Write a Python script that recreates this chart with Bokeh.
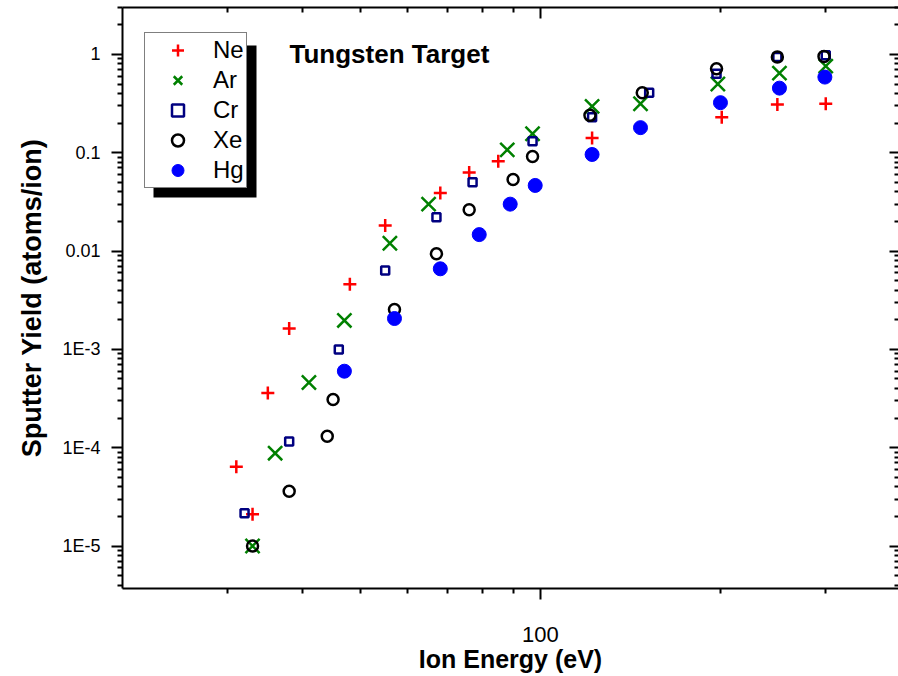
import math
from bokeh.plotting import figure
from bokeh.models import (LogAxis, FixedTicker, CustomJSTickFormatter, Legend,
                          LegendItem, Label, BoxAnnotation, Range1d)
from bokeh.embed import file_html
from bokeh.resources import INLINE

# ---------------- data ----------------
ne_energy = [31, 33, 35, 38, 48, 55, 68, 76, 85, 122, 201, 249, 300]
ne_yield = [6.4e-5, 2.1e-5, 3.6e-4, 1.63e-3, 4.6e-3, 0.0182, 0.039, 0.063, 0.082,
            0.141, 0.23, 0.31, 0.315]

ar_energy = [33, 36, 41, 47, 56, 65, 88, 97, 122, 147, 198, 251, 300]
ar_yield = [1.0e-5, 8.8e-5, 4.6e-4, 1.97e-3, 0.012, 0.030, 0.107, 0.156, 0.296,
            0.315, 0.50, 0.645, 0.76]

cr_energy = [32, 38, 46, 55, 67, 77, 97, 122, 152, 197, 249, 300]
cr_yield = [2.16e-5, 1.16e-4, 1.0e-3, 6.35e-3, 0.0221, 0.050, 0.131, 0.23, 0.408,
            0.636, 0.94, 0.98]

xe_energy = [33, 38, 44, 45, 57, 67, 76, 90, 97, 121, 148, 197, 249, 298]
xe_yield = [1.0e-5, 3.6e-5, 1.31e-4, 3.1e-4, 2.55e-3, 9.4e-3, 0.0263, 0.0535,
            0.0917, 0.24, 0.408, 0.715, 0.94, 0.955]

hg_energy = [47, 57, 68, 79, 89, 98, 122, 147, 200, 251, 299]
hg_yield = [6.0e-4, 2.06e-3, 6.6e-3, 0.0147, 0.030, 0.0465, 0.096, 0.18, 0.323,
            0.454, 0.588]

series_names = ["Ne", "Ar", "Cr", "Xe", "Hg"]
x_major_ticks = [100]
x_minor_ticks = [30, 40, 50, 60, 70, 80, 90, 200, 300]
y_major_ticks = [1e-5, 1e-4, 1e-3, 1e-2, 1e-1, 1]

# ---------------- layout constants ----------------
FONT = "Liberation Sans"
X_LO, X_HI = 20, 397
Y_LO, Y_HI = 3.7e-6, 3.0
FRAME_L, FRAME_T = 122, 7
FRAME_W, FRAME_H = 776, 581
FIG_W, FIG_H = 898, 676


def xdata(px):
    f = (px - FRAME_L) / FRAME_W
    return 10 ** (math.log10(X_LO) + f * (math.log10(X_HI) - math.log10(X_LO)))


def ydata(py):
    f = (py - FRAME_T) / FRAME_H
    return 10 ** (math.log10(Y_HI) - f * (math.log10(Y_HI) - math.log10(Y_LO)))


y_minor_ticks = []
for k in range(-6, 1):
    for m in range(2, 10):
        v = m * 10 ** k
        if Y_LO <= v <= Y_HI:
            y_minor_ticks.append(v)

p = figure(width=FIG_W, height=FIG_H,
           x_axis_type="log", y_axis_type="log",
           x_range=Range1d(X_LO, X_HI), y_range=Range1d(Y_LO, Y_HI),
           output_backend="svg", toolbar_location=None,
           min_border_left=FRAME_L, min_border_right=FIG_W - FRAME_L - FRAME_W,
           min_border_top=FRAME_T,
           min_border_bottom=FIG_H - FRAME_T - FRAME_H)
p.outline_line_color = None
p.xgrid.visible = False
p.ygrid.visible = False
p.background_fill_color = "white"
p.border_fill_color = "white"

# ---- left axis
yax = p.yaxis[0]
yax.ticker = FixedTicker(ticks=y_major_ticks, minor_ticks=y_minor_ticks)
yax.formatter = CustomJSTickFormatter(code="""
const e = Math.round(Math.log10(tick));
if (e >= 0) return String(Math.round(tick));
if (e >= -2) return tick.toFixed(-e);
return "1E" + e;
""")
yax.axis_label = "Sputter Yield (atoms/ion)"
yax.axis_label_text_font = FONT
yax.axis_label_text_font_size = "27px"
yax.axis_label_text_font_style = "bold"
yax.axis_label_text_color = "black"
yax.axis_label_standoff = 12
yax.major_label_text_font = FONT
yax.major_label_text_font_size = "18px"
yax.major_label_text_color = "black"
yax.major_label_standoff = 11
yax.major_tick_out = 11
yax.major_tick_in = 0
yax.minor_tick_out = 5
yax.minor_tick_in = 0
yax.major_tick_line_width = 2
yax.minor_tick_line_width = 2
yax.axis_line_width = 2

# ---- bottom axis
xax = p.xaxis[0]
xax.ticker = FixedTicker(ticks=x_major_ticks, minor_ticks=x_minor_ticks)
xax.formatter = CustomJSTickFormatter(code="return String(Math.round(tick));")
xax.axis_label = "Ion Energy (eV)"
xax.axis_label_text_font = FONT
xax.axis_label_text_font_size = "25px"
xax.axis_label_text_font_style = "bold"
xax.axis_label_text_color = "black"
xax.axis_label_standoff = 0
xax.major_label_text_font = FONT
xax.major_label_text_font_size = "22px"
xax.major_label_text_color = "black"
xax.major_label_standoff = 27
xax.major_tick_out = 11
xax.major_tick_in = 0
xax.minor_tick_out = 5
xax.minor_tick_in = 0
xax.major_tick_line_width = 2
xax.minor_tick_line_width = 2
xax.axis_line_width = 2

# ---- top axis (ticks inward, no labels)
top = LogAxis(ticker=FixedTicker(ticks=x_major_ticks, minor_ticks=x_minor_ticks),
              formatter=CustomJSTickFormatter(code="return '';"),
              major_tick_in=11, major_tick_out=0, minor_tick_in=5, minor_tick_out=0,
              major_tick_line_width=2, minor_tick_line_width=2, axis_line_width=2,
              major_label_standoff=0)
p.add_layout(top, "above")

# ---- right axis (ticks inward, its line is cropped off in the reference)
right = LogAxis(ticker=FixedTicker(ticks=y_major_ticks, minor_ticks=y_minor_ticks),
                formatter=CustomJSTickFormatter(code="return '';"),
                major_tick_in=9, major_tick_out=0, minor_tick_in=4, minor_tick_out=0,
                major_tick_line_width=2, minor_tick_line_width=2,
                axis_line_color=None, major_label_standoff=0)
p.add_layout(right, "right")

# ---- data
r_ne = p.scatter(ne_energy, ne_yield, marker="cross", size=13, line_color="#FF0000",
                 line_width=2.5)
r_ar = p.scatter(ar_energy, ar_yield, marker="x", size=20, line_color="#008000",
                 line_width=2.5)
r_cr = p.scatter(cr_energy, cr_yield, marker="square", size=8, line_color="#000080",
                 fill_color=None, line_width=2.5)
r_xe = p.scatter(xe_energy, xe_yield, marker="circle", size=11, line_color="black",
                 fill_color=None, line_width=2.5)
r_hg = p.scatter(hg_energy, hg_yield, marker="circle", size=14, line_color="#0000FF",
                 fill_color="#0000FF", line_width=1)

# ---- legend with drop shadow
shadow = BoxAnnotation(left=xdata(153), right=xdata(256), top=ydata(45),
                       bottom=ydata(197), fill_color="black", fill_alpha=1.0,
                       line_color=None)
p.add_layout(shadow)

legend = Legend(items=[LegendItem(label=n, renderers=[r])
                       for n, r in zip(series_names, [r_ne, r_ar, r_cr, r_xe, r_hg])],
                location=(144 - FRAME_L, FRAME_T + FRAME_H - 188),
                glyph_width=61, glyph_height=30, label_height=30,
                spacing=0, padding=2, margin=0, label_standoff=5,
                label_text_font=FONT, label_text_font_size="24px",
                label_text_color="black",
                border_line_color="black", border_line_width=1,
                background_fill_color="white", background_fill_alpha=1.0)
p.add_layout(legend, "center")

p.add_layout(Label(x=xdata(289), y=ydata(53), text="Tungsten Target",
                   text_font=FONT, text_font_size="26px", text_font_style="bold",
                   text_baseline="middle", text_align="left", text_color="black"))

open("out.html", "w").write(file_html(p, INLINE))
